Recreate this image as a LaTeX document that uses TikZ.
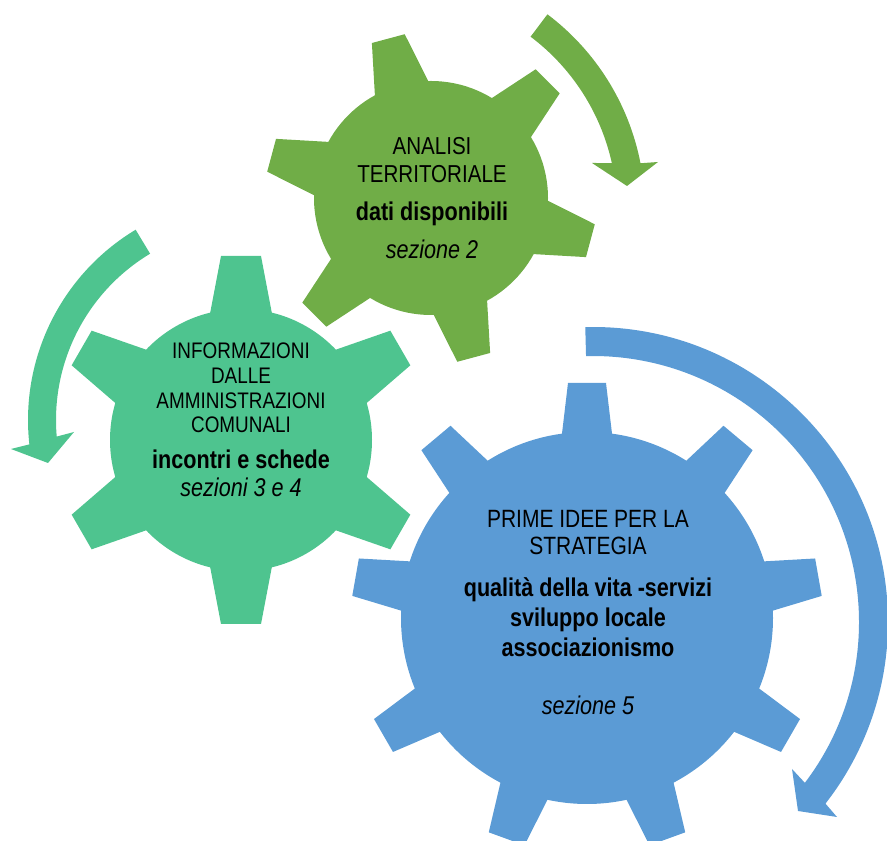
\documentclass[tikz,border=0pt]{standalone}
\usepackage{fontspec}
\setmainfont{Liberation Sans}[FakeStretch=0.84]
\usepackage{tikz}
\definecolor{gearolive}{HTML}{70AD47}
\definecolor{gearteal}{HTML}{4EC48F}
\definecolor{gearblue}{HTML}{5B9BD5}
\newcommand{\gear}[8]{%
\fill[#1] #2 circle (#5);
\foreach \k in {1,...,#3}
  \fill[#1,shift={#2},rotate={#4+360*(\k-1)/#3}] (#5-10,-#7) -- (#6,-#8) -- (#6,#8) -- (#5-10,#7) -- cycle;
}

\begin{document}
\begin{tikzpicture}[x=1pt,y=1pt,
  every node/.style={anchor=base,inner sep=0pt},
  captxt/.style={font=\fontsize{#1}{#1}\selectfont},
  boldtxt/.style={font=\fontsize{25.7}{26}\selectfont\bfseries},
  itxt/.style={font=\fontsize{25.7}{26}\selectfont\itshape}]
\useasboundingbox (0,0) rectangle (887,841);
\gear{gearolive}{(431,643)}{6}{105}{117}{165}{29}{17}
\gear{gearteal}{(241,401)}{6}{90}{131}{184}{32}{20}
\gear{gearblue}{(587,223)}{9}{90}{186}{235}{26}{19}
\begin{scope}[shift={(400,631)}]
\fill[gearolive] (53:245) arc[start angle=53,end angle=11,radius=245] -- (258,48) -- (227,24) -- (192,47) -- (12.5:217) arc[start angle=12.5,end angle=53,radius=217] -- cycle;
\end{scope}
\begin{scope}[shift={(250,421)}]
\fill[gearteal] (121:222) arc[start angle=121,end angle=186.3,radius=222] -- (-239,-29) -- (-202,-43) -- (-176,-12) -- (184.9:194) arc[start angle=184.9,end angle=121,radius=194] -- cycle;
\end{scope}
\begin{scope}[shift={(593,219)}]
\fill[gearblue] (91.5:295) arc[start angle=91.5,end angle=-38,radius=295] -- (244,-195) -- (205,-189) -- (199,-147) -- (-37.2:266) arc[start angle=-37.2,end angle=91.5,radius=266] -- cycle;
\end{scope}
\node[captxt=24.5] (an1) at (432,686) {ANALISI};
\node[captxt=24.5] (an2) at (432,658) {TERRITORIALE};
\node[boldtxt] (an3) at (432,620) {dati disponibili};
\node[itxt] (an4) at (432,582) {sezione 2};
\node[captxt=22.5] (inf1) at (241,482) {INFORMAZIONI};
\node[captxt=22.5] (inf2) at (241,457) {DALLE};
\node[captxt=22.5] (inf3) at (241,432) {AMMINISTRAZIONI};
\node[captxt=22.5] (inf4) at (241,408) {COMUNALI};
\node[boldtxt] (inf5) at (241,372) {incontri e schede};
\node[itxt] (inf6) at (241,344) {sezioni 3 e 4};
\node[captxt=25] (pr1) at (588,313) {PRIME IDEE PER LA};
\node[captxt=25] (pr2) at (588,286) {STRATEGIA};
\node[boldtxt] (pr3) at (588,244) {qualità della vita -servizi};
\node[boldtxt] (pr4) at (588,214) {sviluppo locale};
\node[boldtxt] (pr5) at (588,184) {associazionismo};
\node[itxt] (pr6) at (588,126) {sezione 5};
\end{tikzpicture}
\end{document}
